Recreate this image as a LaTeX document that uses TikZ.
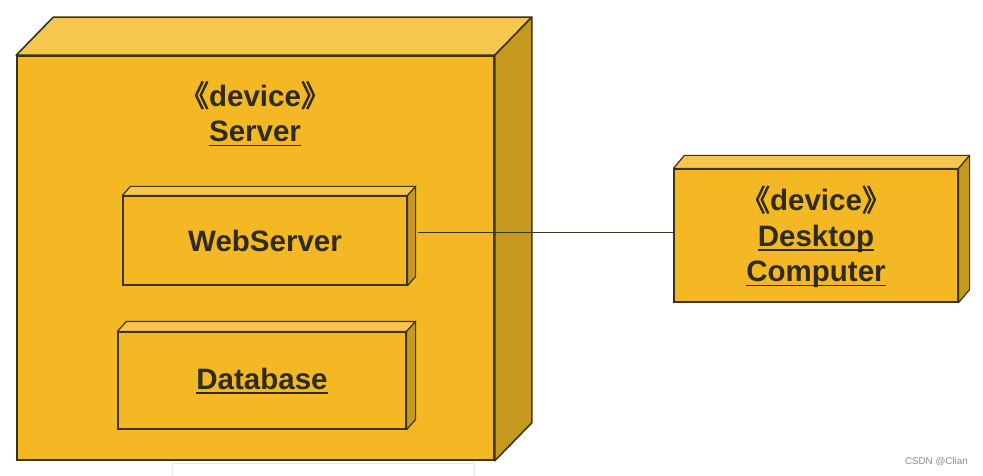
\documentclass[tikz,border=0pt]{standalone}
\usepackage{fontspec}
\setmainfont{Liberation Sans}
\newfontfamily\cjk[AutoFakeBold=2.5]{Noto Sans CJK SC}
\definecolor{frontc}{HTML}{F3B823}
\definecolor{topc}{HTML}{F6C64F}
\definecolor{sidec}{HTML}{C5981E}
\definecolor{edgec}{HTML}{3A3519}
\definecolor{txtc}{HTML}{2E2C18}
\tikzset{
  front/.style={draw=edgec, fill=frontc, rectangle, inner sep=0pt},
  thick box/.style={line width=1.6pt},
  thin box/.style={line width=1.2pt},
  lbl/.style={text=txtc, font=\fontsize{29.5}{35.5}\selectfont\bfseries, align=center, inner sep=0pt},
  conn/.style={draw=edgec, line width=0.9pt},
}
% faces: node name, dx, dy, line width
\newcommand\boxfaces[4]{%
  \filldraw[fill=topc, draw=edgec, line width=#4, line join=round]
    (#1.north west) -- ([shift={(#2pt,#3pt)}]#1.north west) -- ([shift={(#2pt,#3pt)}]#1.north east) -- (#1.north east) -- cycle;
  \filldraw[fill=sidec, draw=edgec, line width=#4, line join=round]
    (#1.north east) -- ([shift={(#2pt,#3pt)}]#1.north east) -- ([shift={(#2pt,#3pt)}]#1.south east) -- (#1.south east) -- cycle;
}
\newcommand\dev{{\cjk 《}device{\cjk 》}}
\newcommand\myul[1]{\leavevmode\setbox0\hbox{#1}\rlap{\rule[-4.5pt]{\wd0}{1.8pt}}\box0}
\begin{document}
\begin{tikzpicture}[x=1pt, y=-1pt]
\useasboundingbox (0,0) rectangle (983,476);
\fill[white] (0,0) rectangle (983,476);
% faint strip below server
\draw[draw=black!10, line width=0.8pt] (172,463) -- (172,480) (172,463) -- (474,463) -- (474,480);
% Server
\node[front, thick box, minimum width=477pt, minimum height=404pt] (srv) at (255.5,258) {};
\boxfaces{srv}{37}{38}{1.6pt}
% WebServer
\node[front, thin box, minimum width=284pt, minimum height=89pt] (ws) at (265,240.5) {};
\boxfaces{ws}{8}{9}{1.2pt}
% Database
\node[front, thin box, minimum width=288pt, minimum height=97pt] (db) at (262,380.5) {};
\boxfaces{db}{9}{10}{1.2pt}
% Desktop
\node[front, thin box, minimum width=284pt, minimum height=133pt] (dt) at (816,235.5) {};
\boxfaces{dt}{11}{13}{1.2pt}
% labels
\node[lbl] (srvl) at (255,114) {\dev\\\myul{Server}};
\node[lbl] (wsl) at (265,241) {WebServer};
\node[lbl] (dbl) at (262,381) {\myul{Database}};
\node[lbl] (dtl) at (816,237) {\dev\\\myul{Desktop}\\\myul{Computer}};
% connector
\coordinate (c1) at ([shift={(10pt,8.5pt)}]ws.east);
\draw[conn] (c1) -- (c1 -| dt.west);
% watermark
\node[text=black!45, font=\fontsize{9.8}{11}\selectfont, anchor=east, inner sep=0pt] (wm) at (968,462) {CSDN @Clian};
\end{tikzpicture}
\end{document}
